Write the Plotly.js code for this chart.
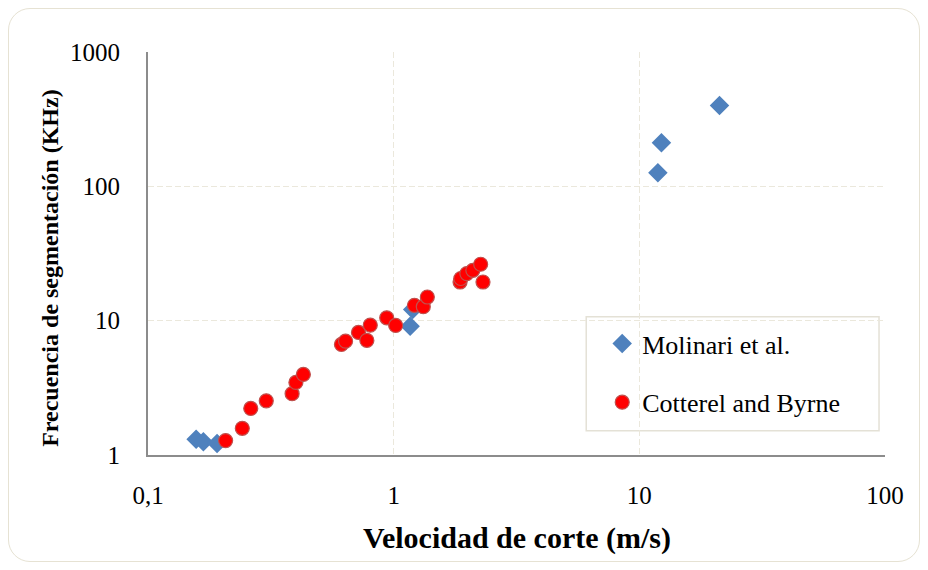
<!DOCTYPE html>
<html>
<head>
<meta charset="utf-8">
<script src="https://cdn.plot.ly/plotly-3.0.1.min.js"></script>
<style>
  html, body { margin: 0; padding: 0; background: #ffffff; }
  #wrap { position: relative; width: 928px; height: 570px; }
  #chart { position: absolute; left: 0; top: 0; width: 928px; height: 570px; }
  #frame {
    position: absolute; left: 8px; top: 8px; width: 910px; height: 552px;
    border: 1.5px solid #e6e2d3; border-radius: 22px; pointer-events: none;
  }
</style>
</head>
<body>
<div id="wrap">
  <div id="chart"></div>
  <div id="frame"></div>
</div>
<script>
// Cutting speed (m/s) vs. chip segmentation frequency (kHz)
const molinariSpeed = [0.157, 0.168, 0.191, 1.167, 1.195, 11.9, 12.3, 21.2];
const molinariFreq  = [1.31, 1.256, 1.22, 9.1, 12.1, 126, 211, 400];

const cotterelSpeed = [0.207, 0.242, 0.262, 0.303, 0.386, 0.400, 0.429, 0.613, 0.637,
                       0.719, 0.778, 0.803, 0.937, 1.019, 1.215, 1.32, 1.371,
                       1.863, 1.876, 1.985, 2.10, 2.26, 2.31];
const cotterelFreq  = [1.28, 1.58, 2.22, 2.53, 2.86, 3.47, 3.98, 6.65, 7.04,
                       8.17, 7.13, 9.26, 10.5, 9.21, 13.0, 12.7, 15.0,
                       19.4, 20.6, 22.4, 23.7, 26.3, 19.4];

const seriesNames = ['Molinari et al.', 'Cotterel and Byrne'];

const xTickVals = [0.1, 1, 10, 100];
const xTickText = ['0,1', '1', '10', '100'];
const yTickVals = [1, 10, 100, 1000];
const yTickText = ['1', '10', '100', '1000'];

const xTitle = 'Velocidad de corte (m/s)';
const yTitle = 'Frecuencia de segmentación (KHz)';

const serif = 'Liberation Serif, Times New Roman, serif';

const traces = [
  {
    x: molinariSpeed, y: molinariFreq, name: seriesNames[0],
    type: 'scatter', mode: 'markers', legendgroup: 'a',
    marker: { symbol: 'diamond', size: 15, color: '#4f81bd',
              line: { width: 0 } }
  },
  {
    x: cotterelSpeed, y: cotterelFreq, name: seriesNames[1],
    type: 'scatter', mode: 'markers', legendgroup: 'b',
    marker: { symbol: 'circle', size: 14, color: '#ff0000',
              line: { width: 1.2, color: '#c0504d' } }
  }
];

const gridStyle = { gridcolor: '#ebe8dc', griddash: '6px,3px', gridwidth: 1.5 };

const layout = {
  width: 928, height: 570,
  margin: { l: 147.5, r: 43, t: 51.5, b: 115 },
  paper_bgcolor: '#ffffff', plot_bgcolor: '#ffffff',
  showlegend: true,
  font: { family: serif, color: '#000000' },
  xaxis: Object.assign({
    type: 'log', range: [-1, 2],
    tickvals: xTickVals, ticktext: xTickText,
    tickfont: { size: 25, family: serif },
    ticks: '', ticklabelstandoff: 17,
    showline: true, linecolor: '#8c8c8c', linewidth: 2,
    zeroline: false, mirror: false
  }, gridStyle),
  yaxis: Object.assign({
    type: 'log', range: [0, 3],
    tickvals: yTickVals, ticktext: yTickText,
    tickfont: { size: 25, family: serif },
    ticks: '', ticklabelstandoff: 21,
    showline: true, linecolor: '#8c8c8c', linewidth: 2,
    zeroline: false, mirror: false
  }, gridStyle),
  legend: {
    x: 0.6163, y: 0.335, xanchor: 'left', yanchor: 'top',
    bgcolor: 'rgba(0,0,0,0)', borderwidth: 0,
    font: { size: 26, family: serif, color: '#000000' },
    tracegroupgap: 22, itemwidth: 30
  },
  annotations: [
    { text: '<b>' + xTitle + '</b>', xref: 'paper', yref: 'paper',
      x: 0.5, y: -0.2057, xanchor: 'center', yanchor: 'middle', showarrow: false,
      font: { size: 30, family: serif, color: '#000000' } },
    { text: '<b>' + yTitle + '</b>', xref: 'paper', yref: 'paper', textangle: -90,
      x: -0.1322, y: 0.4634, xanchor: 'center', yanchor: 'middle', showarrow: false,
      font: { size: 24, family: serif, color: '#000000' } }
  ],
  shapes: [
    { type: 'rect', xref: 'paper', yref: 'paper',
      x0: 0.5946, x1: 0.9919, y0: 0.0602, y1: 0.3428,
      line: { color: '#e4e1d6', width: 1.5 }, fillcolor: '#ffffff', layer: 'below' }
  ]
};

Plotly.newPlot('chart', traces, layout, { displayModeBar: false, staticPlot: true });
</script>
</body>
</html>
